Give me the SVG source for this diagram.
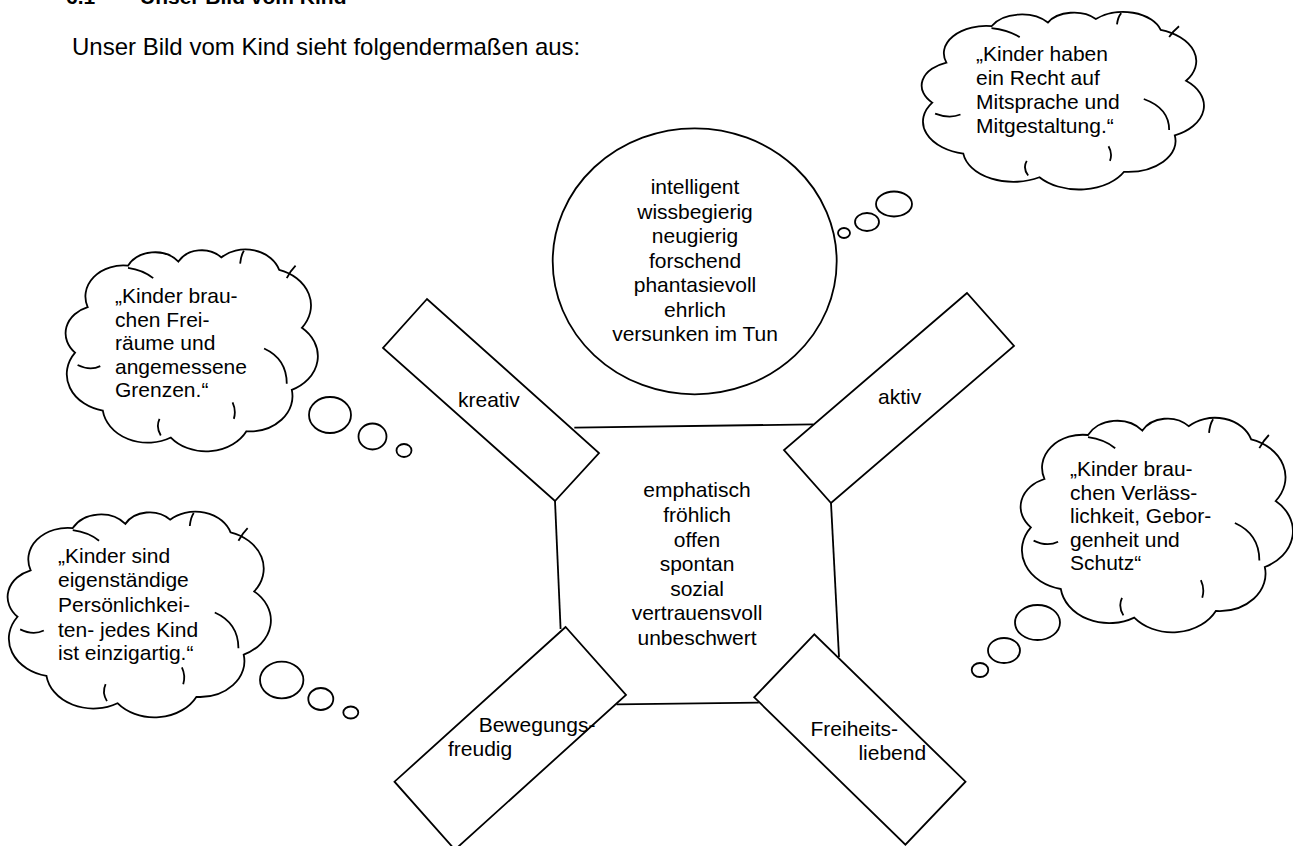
<svg xmlns="http://www.w3.org/2000/svg" xmlns:xlink="http://www.w3.org/1999/xlink" width="1293" height="846" viewBox="0 0 1293 846">
<style>
.ln{fill:none;stroke:#000;stroke-width:1.8}
.sh{fill:#fff;stroke:#000;stroke-width:1.8}
.cl{fill:#fff;stroke:#000;stroke-width:1.8}
.ci{fill:none;stroke:#000;stroke-width:1.8}
text{font-family:"Liberation Sans",Arial,sans-serif;font-size:21px;fill:#000}
.mid{text-anchor:middle}
.h{font-weight:bold}
.intro{font-size:24px}
</style>
<defs>
<path id="cloud" vector-effect="non-scaling-stroke" d="M4 52 A13.5 13.5 0 0 1 9 30 A15 15 0 0 1 25 10 A12 12 0 0 1 45 8 A10.5 10.5 0 0 1 62 6 A14 14 0 0 1 85 12 A18 18 0 0 1 94 40 A18 18 0 0 1 90 70 A17 17 0 0 1 72 90 A18 18 0 0 1 42 93 A18 18 0 0 1 15 80 A18 18 0 0 1 4 52 Z"/>
<path id="cloudIn" vector-effect="non-scaling-stroke" d="M5 58 Q10 61 14 58.5 M25 11 Q31 12 35 16 M69.5 9 Q69.8 5 71 2.8 M88 16 Q89.5 12.5 91.5 10 M79 50 Q88 55 88 67 M38 92 Q36 88 37.5 84 M67 84 Q68 80 66.5 76"/>
</defs>

<text class="h" x="66" y="4">6.1</text>
<text class="h" x="140" y="4">Unser Bild vom Kind</text>
<text class="intro" x="72" y="55">Unser Bild vom Kind sieht folgendermaßen aus:</text>

<g id="connectors">
<line class="ln" x1="574.3" y1="427.7" x2="813.3" y2="424.3"/>
<line class="ln" x1="555" y1="501" x2="560.6" y2="629"/>
<line class="ln" x1="831" y1="503" x2="839" y2="657"/>
<line class="ln" x1="616.5" y1="704.3" x2="758.8" y2="702.7"/>
</g>

<g id="head">
<ellipse class="sh" cx="694.7" cy="261.3" rx="142" ry="133"/>
<text class="mid" x="695" y="194">intelligent</text>
<text class="mid" x="695" y="219">wissbegierig</text>
<text class="mid" x="695" y="243">neugierig</text>
<text class="mid" x="695" y="268">forschend</text>
<text class="mid" x="695" y="292">phantasievoll</text>
<text class="mid" x="695" y="317">ehrlich</text>
<text class="mid" x="695" y="341">versunken im Tun</text>
</g>

<g id="body">
<text class="mid" x="697" y="497">emphatisch</text>
<text class="mid" x="697" y="522">fröhlich</text>
<text class="mid" x="697" y="547">offen</text>
<text class="mid" x="697" y="571">spontan</text>
<text class="mid" x="697" y="596">sozial</text>
<text class="mid" x="697" y="620">vertrauensvoll</text>
<text class="mid" x="697" y="645">unbeschwert</text>
</g>

<g id="arm-kreativ">
<polygon class="sh" points="427,299 383,348 555,501 599,453"/>
<text x="458" y="407">kreativ</text>
</g>

<g id="arm-aktiv">
<polygon class="sh" points="967,293 784,450 831,503 1014,346"/>
<text x="878" y="404">aktiv</text>
</g>

<g id="leg-bewegung">
<polygon class="sh" points="565.6,627 394.5,781.7 454.9,849.7 626,695"/>
<text x="478.7" y="732">Bewegungs-</text>
<text x="448" y="756">freudig</text>
</g>

<g id="leg-freiheit">
<polygon class="sh" points="814.3,634.3 754.2,697.3 905.4,844.7 965.5,781.7"/>
<text x="810.5" y="736">Freiheits-</text>
<text x="858.4" y="760">liebend</text>
</g>

<g id="cloud-mitsprache">
<use xlink:href="#cloud" class="cl" transform="translate(921,8) scale(2.82,1.82)"/>
<use xlink:href="#cloudIn" class="ci" transform="translate(921,8) scale(2.82,1.82)"/>
<ellipse class="sh" cx="894" cy="204" rx="18" ry="12.5"/>
<ellipse class="sh" cx="867" cy="222" rx="12" ry="9"/>
<ellipse class="sh" cx="844" cy="233" rx="6" ry="5"/>
<text x="976" y="61">„Kinder haben</text>
<text x="976" y="85">ein Recht auf</text>
<text x="976" y="109">Mitsprache und</text>
<text x="976" y="133">Mitgestaltung.“</text>
</g>

<g id="cloud-freiraeume">
<use xlink:href="#cloud" class="cl" transform="translate(65,245) scale(2.52,2.07)"/>
<use xlink:href="#cloudIn" class="ci" transform="translate(65,245) scale(2.52,2.07)"/>
<ellipse class="sh" cx="330" cy="415" rx="21" ry="18"/>
<ellipse class="sh" cx="372.5" cy="436.5" rx="14" ry="13"/>
<ellipse class="sh" cx="404" cy="450.5" rx="7.5" ry="6.5"/>
<text x="115" y="303">„Kinder brau-</text>
<text x="115" y="327">chen Frei-</text>
<text x="115" y="350">räume und</text>
<text x="115" y="374">angemessene</text>
<text x="115" y="397">Grenzen.“</text>
</g>

<g id="cloud-persoenlichkeit">
<use xlink:href="#cloud" class="cl" transform="translate(7,507) scale(2.63,2.11)"/>
<use xlink:href="#cloudIn" class="ci" transform="translate(7,507) scale(2.63,2.11)"/>
<ellipse class="sh" cx="281.7" cy="680" rx="21.7" ry="18.3"/>
<ellipse class="sh" cx="320.8" cy="699" rx="12.5" ry="11"/>
<ellipse class="sh" cx="350.8" cy="712.5" rx="7.5" ry="6"/>
<text x="58" y="563">„Kinder sind</text>
<text x="58" y="587">eigenständige</text>
<text x="58" y="612">Persönlichkei-</text>
<text x="58" y="637">ten- jedes Kind</text>
<text x="58" y="660">ist einzigartig.“</text>
</g>

<g id="cloud-geborgenheit">
<use xlink:href="#cloud" class="cl" transform="translate(1020,413) scale(2.72,2.2)"/>
<use xlink:href="#cloudIn" class="ci" transform="translate(1020,413) scale(2.72,2.2)"/>
<ellipse class="sh" cx="1037.5" cy="622.5" rx="22.5" ry="17.5"/>
<ellipse class="sh" cx="1004" cy="650.5" rx="16" ry="12.5"/>
<ellipse class="sh" cx="980" cy="670" rx="8.3" ry="7"/>
<text x="1070" y="476">„Kinder brau-</text>
<text x="1070" y="500">chen Verläss-</text>
<text x="1070" y="523">lichkeit, Gebor-</text>
<text x="1070" y="547">genheit und</text>
<text x="1070" y="570">Schutz“</text>
</g>
</svg>
